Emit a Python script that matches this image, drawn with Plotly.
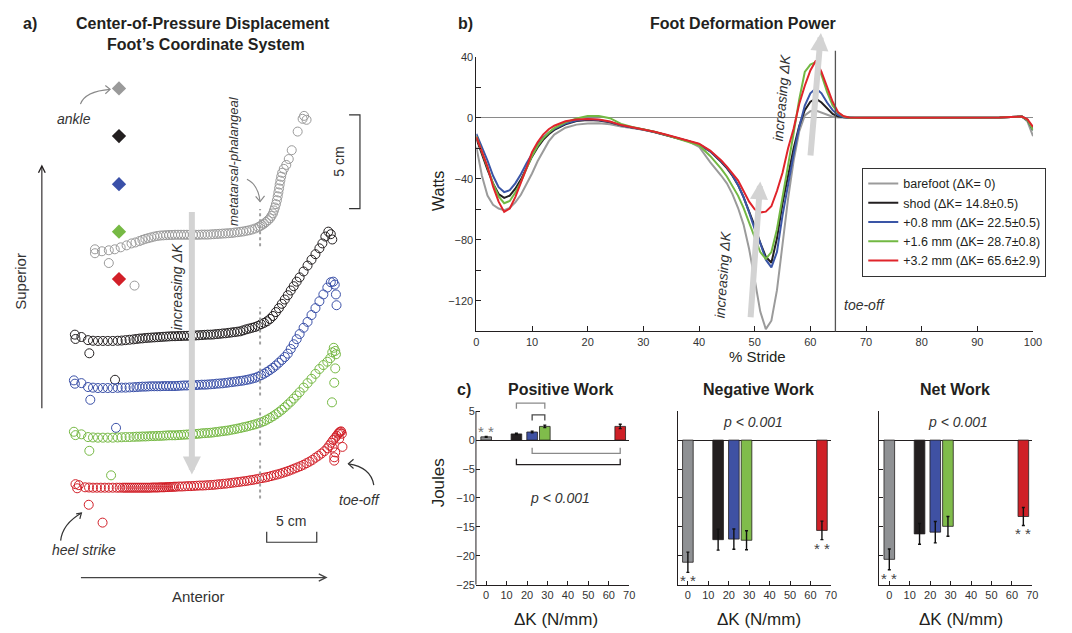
import plotly.graph_objects as go

W, H = 1072, 633
FONT = "Liberation Sans, Arial, Helvetica, sans-serif"
INK = "#231f20"

# ============================ DATA ============================
condition_names = ["barefoot (ΔK= 0)", "shod (ΔK= 14.8±0.5)", "+0.8 mm (ΔK= 22.5±0.5)",
                   "+1.6 mm (ΔK= 28.7±0.8)", "+3.2 mm (ΔK= 65.6±2.9)"]
line_colors = ["#9b9b9b", "#231f20", "#3a55a6", "#72b843", "#e0242b"]
bar_colors = ["#8f9194", "#231f20", "#3f51a3", "#80bc4b", "#cf2027"]
cop_colors = ["#9a9a9a", "#231f20", "#3a50a8", "#76b944", "#d21f28"]

# ---- panel b: foot deformation power (W) vs % stride ----
stride_pct = [0, 1, 2, 3, 4, 5, 6, 7, 8, 9, 10, 11, 12, 13, 14,
              16, 18, 20, 22, 24, 26, 28, 30, 32, 34, 36, 38, 40, 42, 44,
              45, 46, 47, 48, 49, 50, 51, 52, 53, 54, 55, 56, 57, 58, 59, 60, 61, 62, 63, 64, 65, 66, 67, 68,
              70, 75, 80, 85, 90, 94, 96, 97, 98, 99, 100]
power_barefoot = [-19, -38, -51, -57, -59.5, -60.5, -59, -55.5, -50.5, -44, -36.5, -28.5, -21.5, -15.5, -11,
                  -6.5, -4.5, -3.7, -3.6, -4.2, -5.8, -6.8, -7.9, -9.5, -11.3, -13.2, -15.3, -19, -29, -38,
                  -43, -50, -59, -70, -86, -106, -127, -138.5, -133, -113, -82, -53, -28, -9, 1.5, 4.3, 4.8, 3.6,
                  2, 0.7, 0.2, 0, 0, 0,
                  0, 0, 0, 0, 0, 0.2, 0.5, 0.8, 0.8, -2.5, -12]
power_shod = [-13.5, -24, -34, -43, -50, -52.5, -51, -46.5, -40.5, -33, -25.5, -19.5, -14.5, -10.8, -8,
              -4.3, -2.2, -1.5, -1.8, -3, -5, -6.4, -7.6, -9.3, -11.2, -13.2, -15.2, -17.5, -22, -29,
              -33, -38, -44, -52, -61, -71, -82, -91, -95, -79, -56, -37, -20, -5.5, 5, 10.5, 12.5, 10,
              6, 2.5, 0.8, 0.2, 0, 0,
              0, 0, 0, 0, 0, 0.2, 0.5, 0.8, 0.8, -1.5, -8]
power_08mm = [-10.5, -19, -28, -38, -45.5, -48.7, -47.5, -43, -37, -30, -23.5, -17.5, -13, -9.8, -7.3,
              -3.8, -1.8, -1, -1.4, -2.7, -5, -6.4, -7.6, -9.3, -11.2, -13.2, -15.2, -17.3, -22, -28.5,
              -32.5, -37.5, -44, -52, -62, -73, -82, -93, -98, -88, -64, -43, -24, -6, 8, 16, 19.3, 16,
              10, 5, 1.8, 0.4, 0, 0,
              0, 0, 0, 0, 0, 0.2, 0.5, 0.8, 0.8, -1.5, -8]
power_16mm = [-12, -22.5, -33, -43, -51.5, -56, -54.5, -49, -42, -33.5, -25, -18.5, -13.5, -9.8, -6.8,
              -3, -0.5, 1.2, 1.1, -0.3, -4, -6, -7.4, -9.2, -11.2, -13.3, -15.5, -18, -25, -33.5,
              -38.5, -44.5, -51, -59, -69, -79, -88, -92.5, -88, -73, -53, -31, -10, 12, 30, 34.8, 36.5, 28,
              17, 8, 3.2, 0.8, 0, 0,
              0, 0, 0, 0, 0, 0.2, 0.5, 0.8, 0.8, -1.5, -8]
power_32mm = [-12.5, -22, -32, -45, -55, -61.7, -59.5, -52, -43, -33, -22.5, -16, -11, -7.5, -5.2,
              -2.3, -1.1, -0.8, -1.2, -2.5, -4.8, -6.2, -7.5, -9.2, -11, -13, -15, -17, -21.5, -28,
              -32, -36.5, -41, -48, -55, -60, -62, -61.5, -58, -48, -36, -20, -7, 9, 21, 31, 37.5, 30,
              20, 10.5, 3.5, 1, 0.2, 0,
              0, 0, 0, 0, 0, 0.2, 0.5, 0.8, 0.8, -1, -6]
toe_off_pct = 64.5

# ---- panel c: work (J) vs stiffness change ΔK (N/mm) ----
delta_k = [0, 14.8, 22.5, 28.7, 65.6]
pos_work = [0.56, 1.07, 1.4, 2.37, 2.37]
pos_err = [0.08, 0.12, 0.15, 0.22, 0.38]
neg_work = [-21.1, -17.2, -17.1, -17.3, -15.6]
neg_err = [1.75, 1.8, 1.75, 1.65, 1.6]
net_work = [-20.6, -16.2, -15.9, -14.9, -13.2]
net_err = [1.8, 1.8, 1.85, 1.7, 1.55]
# significance brackets (positive work): (condition i, condition j, level, leg end)
pos_brackets = [(1, 3, 6.4, 5.4), (2, 3, 4.35, 3.4), (2, 4, -2.3, -1.3), (1, 4, -4.25, -3.2)]
pos_bracket_colors = ["#8a8a8a", "#4a4a4a", "#8a8a8a", "#231f20"]

# ---- panel a: centre-of-pressure path (anterior mm, superior display units) ----
cop_barefoot_x = [23, 23, 30, 37, 63, 37, 43, 49, 55, 60, 64, 68,
                  71, 74, 77, 80, 83, 86, 89, 92, 95, 98, 101, 104, 107, 110, 113, 116, 119, 122, 125, 128,
                  131, 134, 137, 140, 143, 146, 149, 152, 155, 158, 161, 164, 167, 170, 173, 176, 179, 182,
                  185, 188, 190, 192, 194, 196, 198, 200,
                  201.5, 203, 204, 205, 206, 207, 207.8, 208.5, 209.2, 209.8, 210.5, 211.3, 212.3,
                  214, 216.5, 219, 222, 228, 233, 234.5, 237]
cop_barefoot_y = [126, 124, 125, 119, 107.5, 125.5, 126, 127, 128, 129, 129.5, 130.2,
                  130.8, 131.3, 131.7, 132.1, 132.5, 132.8, 133, 133.1, 133.2, 133.3, 133.3, 133.4, 133.4,
                  133.4, 133.4, 133.4, 133.4, 133.4, 133.4, 133.4, 133.5, 133.5, 133.5, 133.6, 133.7, 133.8,
                  133.9, 134, 134.1, 134.2, 134.3, 134.5, 134.7, 134.9, 135.1, 135.4, 135.7, 136.1, 136.6,
                  137.2, 137.8, 138.4, 139.1, 139.9, 140.8, 141.8,
                  143, 144.3, 145.8, 147.3, 149, 151, 153, 155, 157, 159, 161, 163, 165,
                  167, 169, 172, 176.5, 186, 192.5, 194, 192]

cop_shod_x = [2.7, 3.3, 9.3, 17.3, 43.3, 16, 21, 26, 31, 36, 41, 46, 50, 54, 58, 62,
              65, 68, 71, 74, 77, 80, 83, 86, 89, 92, 95, 98, 101, 104, 107, 110, 113, 116, 119, 122,
              125, 128, 131, 134, 137, 140, 143, 146, 149, 152, 155, 158, 161, 164, 167, 170, 173, 176,
              179, 182, 185, 188, 191, 194, 197, 200, 203, 206, 209, 212, 215, 218, 221, 224, 227, 230,
              234, 238, 242, 246, 250, 253, 256, 259, 261.5, 263]
cop_shod_y = [82.5, 80.3, 81.3, 73, 59.5, 79.7, 79.4, 79.3, 79.3, 79.3, 79.3, 79.4, 79.5, 79.7, 79.9, 80.1,
              80.3, 80.5, 80.6, 80.8, 80.9, 81.0, 81.1, 81.2, 81.3, 81.4, 81.5, 81.6, 81.7, 81.7, 81.8, 81.8,
              81.9, 81.9, 82.0, 82.0, 82.1, 82.2, 82.3, 82.4, 82.5, 82.5, 82.6, 82.8, 82.9, 83.1, 83.2, 83.4,
              83.6, 83.8, 84.0, 84.2, 84.7, 85.2, 85.6, 86.0, 86.4, 87.0, 87.8, 88.5, 89.3, 90.5, 92.0, 94.0,
              96.0, 98.2, 100.4, 102.6, 105.0, 107.2, 109.5, 111.7,
              114.7, 117.7, 120.7, 123.5, 126.5, 129, 132.5, 135, 133.7, 131]

cop_08mm_x = [1.7, 2.7, 9.3, 18.3, 44.3, 16, 21, 26, 31, 36, 41, 46, 50, 54, 58, 62,
              65, 68, 71, 74, 77, 80, 83, 86, 89, 92, 95, 98, 101, 104, 107, 110, 113, 116, 119, 122,
              125, 128, 131, 134, 137, 140, 143, 146, 149, 152, 155, 158, 161, 164, 167, 170, 173, 176,
              179, 182, 185, 188, 191, 194, 197, 200, 203, 206, 209, 212, 215, 218, 221, 224, 227, 230,
              234, 238, 242, 246, 250, 254, 258, 261.5, 264, 265.5, 266.7, 267.3]
cop_08mm_y = [59.2, 57.5, 57.8, 49.3, 35, 55.8, 55.5, 55.3, 55.3, 55.3, 55.3, 55.4, 55.5, 55.5, 55.6, 55.7,
              55.8, 55.9, 56.0, 56.0, 56.1, 56.2, 56.2, 56.2, 56.2, 56.3, 56.3, 56.3, 56.3, 56.3, 56.4, 56.5,
              56.6, 56.6, 56.7, 56.8, 56.8, 56.9, 57.0, 57.0, 57.1, 57.2, 57.3, 57.5, 57.6, 57.7, 57.9, 58.1,
              58.3, 58.5, 58.7, 58.9, 59.1, 59.4, 59.7, 60.1, 60.5, 61.1, 61.8, 62.6, 63.5, 64.5, 65.6, 66.8,
              68.2, 69.6, 71.1, 72.8, 75.2, 77.6, 80.2, 82.8,
              86, 89, 92.5, 96, 99.5, 103, 106.5, 109.2, 109.5, 108, 103, 97.5]

cop_16mm_x = [1.7, 3.3, 9.3, 17.3, 39.3, 16, 21, 26, 31, 36, 41, 46, 50, 54, 58, 62,
              65, 68, 71, 74, 77, 80, 83, 86, 89, 92, 95, 98, 101, 104, 107, 110, 113, 116, 119, 122,
              125, 128, 131, 134, 137, 140, 143, 146, 149, 152, 155, 158, 161, 164, 167, 170, 173, 176,
              179, 182, 185, 188, 191, 194, 197, 200, 203, 206, 209, 212, 215, 218, 221, 224, 227, 230,
              234, 238, 242, 246, 250, 254, 258, 261, 263, 264.5, 266, 266.7, 266, 265, 262.7]
cop_16mm_y = [33, 31.3, 31.7, 23.3, 10.8, 30.3, 30.1, 30.0, 30.0, 30.0, 30.0, 30.1, 30.2, 30.3, 30.3, 30.4,
              30.5, 30.5, 30.6, 30.6, 30.7, 30.8, 30.8, 30.9, 30.9, 31.0, 31.1, 31.2, 31.2, 31.2, 31.3, 31.4,
              31.5, 31.6, 31.7, 31.8, 31.9, 32.0, 32.2, 32.3, 32.4, 32.5, 32.7, 32.9, 33.1, 33.3, 33.5, 33.7,
              34.0, 34.3, 34.6, 34.9, 35.3, 35.6, 36.0, 36.4, 36.8, 37.3, 37.8, 38.4, 39.2, 40.0, 40.9, 41.9,
              43.0, 44.2, 45.5, 46.9, 48.3, 49.9, 51.5, 53.2,
              55.5, 57.8, 60.0, 62.5, 65.0, 67.0, 68.7, 70.5, 73.5, 75.8, 74.2, 72.5, 65.3, 58, 48]

cop_32mm_x = [3.3, 5, 6.7, 16.7, 30.7, 13, 17, 21, 25, 29, 33, 37, 41, 45, 48,
              51, 53, 55, 57, 59, 61, 63, 65, 67, 69, 71, 73, 75, 77, 79, 81, 83, 85, 87, 89, 91, 93, 95, 97,
              99, 101, 103, 105,
              108, 111, 114, 117, 120, 123, 126, 129, 132, 135, 138, 141, 144, 147, 150, 153, 156, 159, 162,
              165, 168, 171, 174, 177, 180, 183, 186, 189, 192, 195, 198, 201, 204, 207, 210, 213, 216, 219,
              222, 225, 228, 231, 234, 237, 240, 243, 246, 249, 252, 255, 258,
              260, 262, 264, 266, 267.5, 269, 270, 271, 272, 272.7, 273.3, 270, 266, 265, 265, 263.3]
cop_32mm_y = [6.3, 4.2, 5.8, -4.2, -13.3, 4.7, 4.6, 4.5, 4.5, 4.5, 4.5, 4.5, 4.5, 4.5, 4.5,
              4.5, 4.5, 4.5, 4.5, 4.5, 4.5, 4.5, 4.5, 4.5, 4.5, 4.5, 4.5, 4.5, 4.5, 4.5, 4.6, 4.6, 4.6, 4.6,
              4.7, 4.7, 4.7, 4.8, 4.8, 4.9, 4.9, 5.0, 5.0,
              5.1, 5.1, 5.2, 5.3, 5.3, 5.4, 5.5, 5.6, 5.6, 5.7, 5.8, 5.9, 6.0, 6.2, 6.3, 6.5, 6.6, 6.8, 7.0,
              7.2, 7.4, 7.6, 7.8, 8.0, 8.3, 8.5, 8.8, 9.1, 9.4, 9.7, 10.0, 10.4, 10.8, 11.2, 11.6, 12.1, 12.6,
              13.1, 13.7, 14.3, 14.9, 15.5, 16.2, 17.0, 17.8, 18.7, 19.8, 20.8, 21.9, 23.1, 24.6,
              26.0, 27.4, 28.8, 30.0, 31.0, 32.0, 32.6, 33.0, 33.2, 32.0, 25.3, 29.5, 22.5, 20, 18.3, 25]

ankle_x = [47.3, 47.3, 47.3, 47.3, 47.3]
ankle_y = [208, 183.7, 159.2, 135, 110.8]
mtp_x = 190
mtp_low = [127.5, 77.5, 51.5, 26, -1]
mtp_high = [146.5, 96.5, 71, 45, 18.5]

# ============================ FIGURE ============================
fig = go.Figure()

# ---- panel a ----
cop_sets = [(cop_barefoot_x, cop_barefoot_y), (cop_shod_x, cop_shod_y), (cop_08mm_x, cop_08mm_y),
            (cop_16mm_x, cop_16mm_y), (cop_32mm_x, cop_32mm_y)]
for (xs, ys), col in zip(cop_sets, cop_colors):
    fig.add_trace(go.Scatter(x=xs, y=ys, xaxis="x", yaxis="y", mode="markers",
                             marker=dict(symbol="circle-open", size=9, color=col,
                                         line=dict(width=1, color=col)),
                             showlegend=False, hoverinfo="skip"))
fig.add_trace(go.Scatter(x=ankle_x, y=ankle_y, xaxis="x", yaxis="y", mode="markers",
                         marker=dict(symbol="diamond", size=11, color=cop_colors, line=dict(width=0)),
                         showlegend=False, hoverinfo="skip"))

# ---- panel b ----
power_sets = [power_barefoot, power_shod, power_08mm, power_16mm, power_32mm]
for name, ys, col in zip(condition_names, power_sets, line_colors):
    fig.add_trace(go.Scatter(x=stride_pct, y=ys, xaxis="x2", yaxis="y2", mode="lines", name=name,
                             line=dict(color=col, width=2), showlegend=True, hoverinfo="skip"))

# ---- panel c ----
for k, (vals, errs) in enumerate([(pos_work, pos_err), (neg_work, neg_err), (net_work, net_err)]):
    ax = str(k + 3)
    fig.add_trace(go.Bar(x=delta_k, y=vals, width=5.2, xaxis="x" + ax, yaxis="y" + ax,
                         marker=dict(color=bar_colors, line=dict(color="#231f20", width=0.8)),
                         error_y=dict(type="data", array=errs, color="#111111", thickness=1.4, width=1.5),
                         showlegend=False, hoverinfo="skip"))

# ============================ AXES ============================
def px_x(p):
    return p / W

def px_y(p):
    return 1 - p / H

tickfont = dict(family=FONT, size=11, color="#333333")
common_c = dict(showgrid=False, showline=True, linecolor=INK, linewidth=1, ticks="inside", ticklen=4,
                tickcolor=INK, tickfont=tickfont)

layout_axes = dict(
    xaxis=dict(domain=[0, px_x(460)], range=[-70, 390], visible=False, anchor="y"),
    yaxis=dict(domain=[0, 1], range=[-66.5, 250], visible=False, anchor="x"),
    xaxis2=dict(domain=[px_x(478.7), px_x(1041.7)], range=[0, 100], anchor="y2", showgrid=False,
                zeroline=False, showline=True, linecolor=INK, linewidth=1, ticks="inside", ticklen=5,
                tickcolor=INK, tickvals=list(range(0, 101, 10)), tickfont=tickfont),
    yaxis2=dict(domain=[px_y(331.7), px_y(51.7)], range=[-140, 40], anchor="x2", showgrid=False,
                showline=True, linecolor=INK, linewidth=1, ticks="inside", ticklen=5, tickcolor=INK,
                tickvals=[-120, -100, -80, -60, -40, -20, 0, 20, 40],
                ticktext=["\u2212120", "", "\u221280", "", "\u221240", "", "0", "", "40"],
                tickfont=tickfont, zeroline=True, zerolinecolor="#8a8a8a", zerolinewidth=1),
    xaxis3=dict(domain=[px_x(478.3), px_x(633.3)], range=[-5, 70], anchor="y3", zeroline=False,
                tickvals=list(range(0, 71, 10)), **common_c),
    yaxis3=dict(domain=[px_y(590), px_y(401.2)], range=[-25, 7], anchor="x3", showgrid=False,
                showline=False, ticks="inside", ticklen=4, tickcolor=INK, tickfont=tickfont,
                tickvals=[-25, -20, -15, -10, -5, 0, 5], zeroline=True, zerolinecolor=INK, zerolinewidth=1),
    xaxis4=dict(domain=[px_x(682.3), px_x(837.3)], range=[-5, 70], anchor="y4", zeroline=False,
                tickvals=list(range(0, 71, 10)), **common_c),
    yaxis4=dict(domain=[px_y(590), px_y(413)], range=[-25, 5], anchor="x4", showticklabels=False,
                tickvals=[-25, -20, -15, -10, -5, 0, 5], zeroline=True, zerolinecolor=INK,
                zerolinewidth=1, **common_c),
    xaxis5=dict(domain=[px_x(886), px_x(1041)], range=[-5, 70], anchor="y5", zeroline=False,
                tickvals=list(range(0, 71, 10)), **common_c),
    yaxis5=dict(domain=[px_y(590), px_y(413)], range=[-25, 5], anchor="x5", showticklabels=False,
                tickvals=[-25, -20, -15, -10, -5, 0, 5], zeroline=True, zerolinecolor=INK,
                zerolinewidth=1, **common_c),
)

shapes = []
# panel c positive: y-axis line only from -25 to 5
shapes.append(dict(type="line", xref="x3 domain", x0=0, x1=0, yref="y3", y0=-25, y1=5,
                   line=dict(color=INK, width=1)))
# significance brackets
for (i, j, lvl, leg), col in zip(pos_brackets, pos_bracket_colors):
    xi, xj = delta_k[i], delta_k[j]
    shapes.append(dict(type="path", xref="x3", yref="y3",
                       path=f"M {xi},{leg} L {xi},{lvl} L {xj},{lvl} L {xj},{leg}",
                       line=dict(color=col, width=1.3)))
# toe-off line
shapes.append(dict(type="line", xref="x2", x0=toe_off_pct, x1=toe_off_pct, yref="y2 domain", y0=0, y1=1.022,
                   line=dict(color="#555555", width=1.3)))
# metatarsal-phalangeal dotted markers
for lo, hi in zip(mtp_low, mtp_high):
    shapes.append(dict(type="line", xref="x", yref="y", x0=mtp_x, x1=mtp_x, y0=lo, y1=hi,
                       line=dict(color="#a0a0a0", width=2, dash="dot")))
# scale bars
shapes.append(dict(type="path", xref="x", yref="y", path="M 280,194.5 L 291,194.5 L 291,146.7 L 280,146.7",
                   line=dict(color="#333333", width=1.2)))
shapes.append(dict(type="path", xref="x", yref="y", path="M 196.7,-18 L 196.7,-23.3 L 247.3,-23.3 L 247.3,-18",
                   line=dict(color="#333333", width=1.2)))
# curved pointer arrows (panel a)
curved = [
    ("M 8.3,200 Q 13,206.5 38.3,207.5", "M 33.5,209.5 L 38.3,207.5 L 33.5,205.25", "#8a8a8a"),
    ("M 176.7,161.7 Q 188,159 190,150.3", "M 185.5,153 L 190,150.3 L 194.5,153.25", "#8a8a8a"),
    ("M 305,5.85 Q 302,15 279.3,16.65", "M 284.5,19 L 279.3,16.65 L 284.5,14.25", "#333333"),
    ("M -11.7,-22.5 Q -10,-14 9.3,-8.35", "M 4,-8.85 L 9.3,-8.35 L 7.7,-11.35", "#333333"),
]
for body, head, col in curved:
    shapes.append(dict(type="path", xref="x", yref="y", path=body, line=dict(color=col, width=1.2)))
    shapes.append(dict(type="path", xref="x", yref="y", path=head, line=dict(color=col, width=1.2)))

ann = []


def ptext(text, px, py, size, angle=0, color=INK, xanchor="center"):
    ann.append(dict(x=px / W, y=1 - py / H, xref="paper", yref="paper", text=text, showarrow=False,
                    textangle=angle, xanchor=xanchor, yanchor="middle",
                    font=dict(family=FONT, size=size, color=color)))


def dtext(text, x, y, xr, yr, size, angle=0, color=INK, xanchor="center", yshift=0):
    ann.append(dict(x=x, y=y, xref=xr, yref=yr, text=text, showarrow=False, textangle=angle,
                    xanchor=xanchor, yanchor="middle", yshift=yshift,
                    font=dict(family=FONT, size=size, color=color)))


def arrow(x, y, ax, ay, xr, yr, color, width, head, size):
    ann.append(dict(x=x, y=y, ax=ax, ay=ay, xref=xr, yref=yr, axref=xr, ayref=yr, text="",
                    showarrow=True, arrowcolor=color, arrowwidth=width, arrowhead=head, arrowsize=size))


# titles
ptext("<b>a)</b>", 27.5, 18, 16)
ptext("<b>Center-of-Pressure Displacement</b>", 202.7, 18, 16)
ptext("<b>Foot\u2019s Coordinate System</b>", 205, 39.5, 16)
ptext("<b>b)</b>", 468, 18, 16)
ptext("<b>Foot Deformation Power</b>", 748, 18, 16)
ptext("<b>c)</b>", 466.7, 390.7, 16)
ptext("<b>Positive Work</b>", 564, 390.7, 16)
ptext("<b>Negative Work</b>", 763.8, 390.7, 16)
ptext("<b>Net Work</b>", 962.7, 390.7, 16)
# axis titles
ptext("Watts", 440.5, 189, 16, angle=-90)
ptext("% Stride", 763, 357, 15)
ptext("Joules", 440.5, 486, 17, angle=-90)
ptext("\u0394K (N/mm)", 559, 625, 17)
ptext("\u0394K (N/mm)", 764.7, 625, 17)
ptext("\u0394K (N/mm)", 969, 625, 17)

# panel a labels
dtext("<i>ankle</i>", 1.7, 192.5, "x", "y", 14, color="#333333")
dtext("<i>metatarsal-phalangeal</i>", 163.3, 170.8, "x", "y", 13, angle=-90, color="#333333")
dtext("<i>increasing \u0394K</i>", 106, 106.7, "x", "y", 14, angle=-90, color="#333333")
dtext("5 cm", 269, 170.7, "x", "y", 14, angle=-90, color="#333333")
dtext("5 cm", 221.7, -12.5, "x", "y", 14, color="#333333")
dtext("<i>toe-off</i>", 290.8, -1.7, "x", "y", 14, color="#333333")
dtext("<i>heel strike</i>", 11.7, -27.5, "x", "y", 14, color="#333333")
dtext("Superior", -51.7, 109.5, "x", "y", 15, angle=-90, color="#333333")
dtext("Anterior", 127.7, -50.8, "x", "y", 15, color="#333333")
arrow(121, 11.2, 121, 145.8, "x", "y", "#d3d3d3", 6, 2, 0.6)
arrow(-30.7, 169.2, -30.7, 44.2, "x", "y", "#231f20", 1.1, 5, 1.2)
arrow(258.3, -41.3, 7.3, -41.3, "x", "y", "#444444", 1.3, 5, 1.1)

# panel b labels
arrow(51.0, -41.7, 49.25, -131.7, "x2", "y2", "#d3d3d3", 6, 2, 0.6)
arrow(61.9, 55.6, 60.0, -25.7, "x2", "y2", "#d3d3d3", 6, 2, 0.6)
dtext("<i>increasing \u0394K</i>", 44.3, -102.6, "x2", "y2", 14, angle=-86, color="#333333")
dtext("<i>increasing \u0394K</i>", 54.9, 13.4, "x2", "y2", 14, angle=-85, color="#333333")
dtext("<i>toe-off</i>", 65.65, -123, "x2", "y2", 14, color="#333333", xanchor="left")

# panel c labels
dtext("<i>p < 0.001</i>", 36.1, -10, "x3", "y3", 14, color="#333333")
dtext("<i>p < 0.001</i>", 32.1, 3.2, "x4", "y4", 14, color="#333333")
dtext("<i>p < 0.001</i>", 33.6, 3.2, "x5", "y5", 14, color="#333333")
dtext("* *", delta_k[0], 2.1, "x3", "y3", 15, color="#777777", yshift=-4)
dtext("* *", delta_k[0], -23.6, "x4", "y4", 15, color="#444444", yshift=-4)
dtext("* *", delta_k[4], -18.0, "x4", "y4", 15, color="#444444", yshift=-4)
dtext("* *", delta_k[0], -23.2, "x5", "y5", 15, color="#444444", yshift=-4)
dtext("* *", delta_k[4], -15.5, "x5", "y5", 15, color="#444444", yshift=-4)

fig.update_layout(
    width=W, height=H, autosize=False, margin=dict(l=0, r=0, t=0, b=0),
    paper_bgcolor="white", plot_bgcolor="rgba(0,0,0,0)",
    font=dict(family=FONT, color=INK),
    showlegend=True,
    legend=dict(x=869 / W, y=1 - 165 / H, xanchor="left", yanchor="top", bordercolor="#333333",
                borderwidth=1, bgcolor="white", font=dict(family=FONT, size=12.5, color=INK),
                tracegroupgap=0, traceorder="normal"),
    shapes=shapes, annotations=ann, **layout_axes,
)

fig.write_html("out.html")
